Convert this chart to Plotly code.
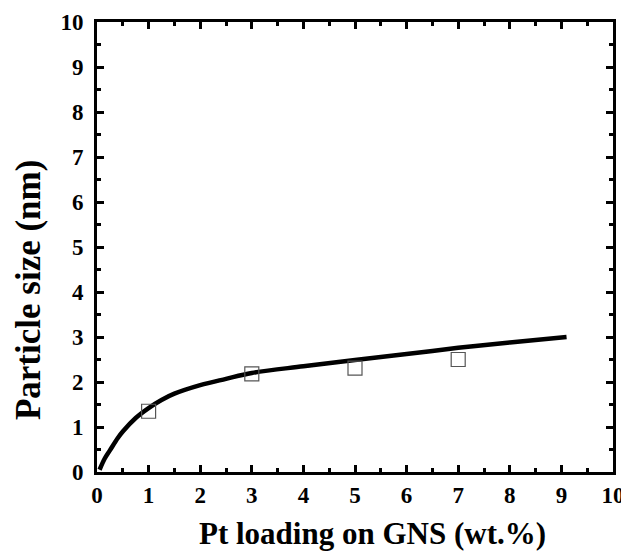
import plotly.graph_objects as go

# measured data (squares)
pt_loading = [1, 3, 5, 7]
particle_size = [1.35, 2.18, 2.31, 2.5]

# fitted curve
fit_x = [0.05, 0.15, 0.25, 0.4, 0.5, 0.75, 1.0, 1.25, 1.5, 2.0, 2.5, 3.0, 4.0, 5.0, 6.0, 7.0, 8.0, 9.1]
fit_y = [0.05, 0.3, 0.48, 0.75, 0.9, 1.2, 1.42, 1.6, 1.74, 1.93, 2.07, 2.2, 2.35, 2.49, 2.62, 2.76, 2.88, 3.0]

tick_vals = list(range(0, 11))
tick_text = ["<b>%d</b>" % v for v in tick_vals]
minor_vals = [v + 0.5 for v in range(0, 10)]

x_title = "Pt loading on GNS (wt.%)"
y_title = "Particle size (nm)"

font_family = "Liberation Serif"

fig = go.Figure()
fig.add_trace(go.Scatter(x=fit_x, y=fit_y, mode="lines", line=dict(color="black", width=4.5, shape="spline"),
                         showlegend=False))
fig.add_trace(go.Scatter(x=pt_loading, y=particle_size, mode="markers",
                         marker=dict(symbol="square-open", size=14, color="#555555", line=dict(width=1.2)),
                         showlegend=False))

axis_common = dict(
    range=[0, 10], tickmode="array", tickvals=tick_vals, ticktext=tick_text,
    showgrid=False, zeroline=False, showline=True, linecolor="black", linewidth=3,
    mirror="ticks", ticks="inside", ticklen=7, tickwidth=3, tickcolor="black",
    tickfont=dict(family=font_family, size=23, color="black"),
    automargin=False,
    minor=dict(ticks="inside", ticklen=4, tickwidth=3, tickcolor="black", tickmode="array",
               tickvals=minor_vals, showgrid=False),
)

fig.update_layout(
    width=621, height=543,
    margin=dict(l=89, r=16, t=14, b=79),
    paper_bgcolor="white", plot_bgcolor="white",
    xaxis=dict(**axis_common, ticklabelstandoff=0),
    yaxis=dict(**axis_common, ticklabelstandoff=6),
    annotations=[
        dict(text="<b>%s</b>" % x_title, xref="paper", yref="paper", x=0.534, y=-0.136,
             xanchor="center", yanchor="middle", showarrow=False,
             font=dict(family=font_family, size=31, color="black")),
        dict(text="<b>%s</b>" % y_title, xref="paper", yref="paper", x=-0.134, y=0.404,
             xanchor="center", yanchor="middle", showarrow=False, textangle=-90,
             font=dict(family=font_family, size=35, color="black")),
    ],
)

fig.write_html("out.html")
